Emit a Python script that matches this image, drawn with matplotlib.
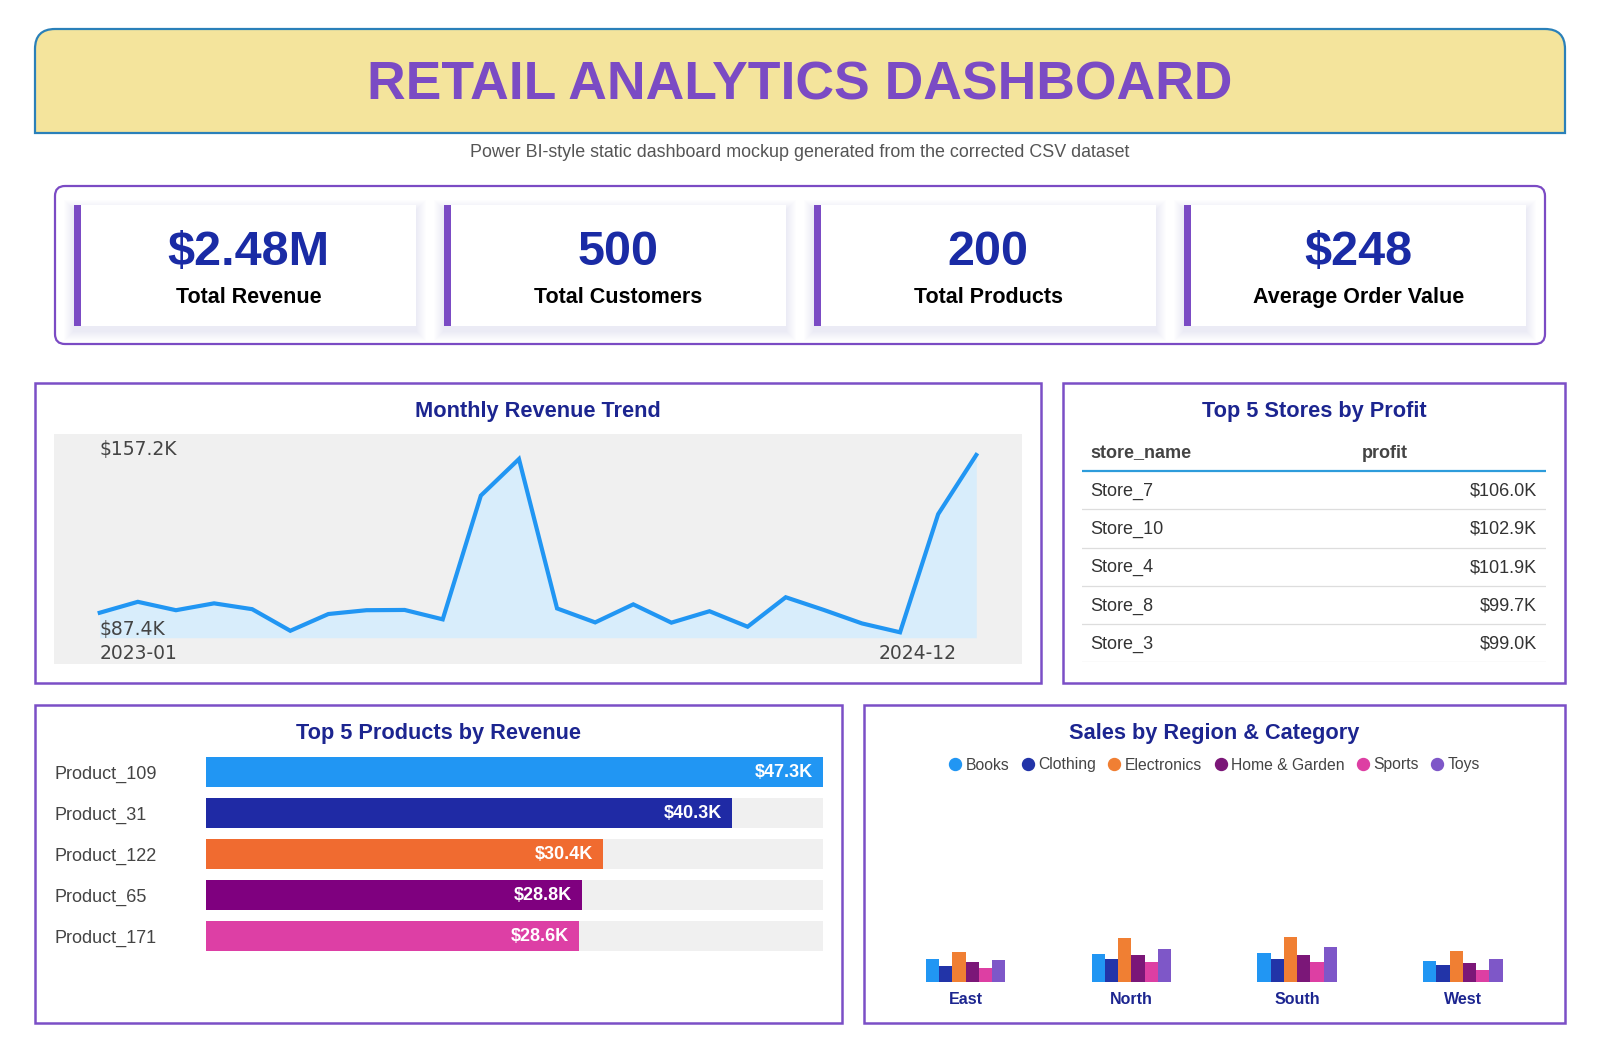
import matplotlib
matplotlib.use('Agg')
import matplotlib.pyplot as plt
from matplotlib.patches import FancyBboxPatch, Rectangle, PathPatch
from matplotlib.path import Path
from matplotlib.lines import Line2D
import numpy as np

plt.rcParams['font.family'] = ['Liberation Sans', 'DejaVu Sans']

# ---------------- data ----------------
title = 'RETAIL ANALYTICS DASHBOARD'
subtitle = 'Power BI-style static dashboard mockup generated from the corrected CSV dataset'

kpi_values = ['$2.48M', '500', '200', '$248']
kpi_labels = ['Total Revenue', 'Total Customers', 'Total Products', 'Average Order Value']

months = ['2023-01', '2023-02', '2023-03', '2023-04', '2023-05', '2023-06',
          '2023-07', '2023-08', '2023-09', '2023-10', '2023-11', '2023-12',
          '2024-01', '2024-02', '2024-03', '2024-04', '2024-05', '2024-06',
          '2024-07', '2024-08', '2024-09', '2024-10', '2024-11', '2024-12']
monthly_revenue_k = [95.1, 99.4, 96.1, 98.8, 96.5, 88.0, 94.6, 96.1, 96.2, 92.5, 141.2, 155.6,
                     96.8, 91.3, 98.4, 91.2, 95.7, 89.6, 101.2, 96.2, 90.9, 87.4, 133.9, 157.2]

store_names = ['Store_7', 'Store_10', 'Store_4', 'Store_8', 'Store_3']
store_profit_k = [106.0, 102.9, 101.9, 99.7, 99.0]

products = ['Product_109', 'Product_31', 'Product_122', 'Product_65', 'Product_171']
product_revenue_k = [47.3, 40.3, 30.4, 28.8, 28.6]
product_colors = ['#2196F3', '#1F2AA5', '#F06B30', '#7F007F', '#DD3FA5']

regions = ['East', 'North', 'South', 'West']
categories = ['Books', 'Clothing', 'Electronics', 'Home & Garden', 'Sports', 'Toys']
category_colors = ['#2196F3', '#2234A8', '#F07F33', '#7B1778', '#DD3FA3', '#7E57C8']
sales_books = [94.7, 115.5, 119.7, 86.3]
sales_clothing = [65.5, 94.7, 94.7, 69.6]
sales_electronics = [123.8, 182.2, 186.4, 128.0]
sales_home = [82.1, 111.3, 111.3, 78.0]
sales_sports = [57.1, 82.1, 82.1, 48.8]
sales_toys = [90.5, 136.4, 144.7, 94.7]
region_sales = [sales_books, sales_clothing, sales_electronics, sales_home, sales_sports, sales_toys]

# ---------------- styling ----------------
W, H, DPI = 1600, 1050, 100
PURPLE = '#7B4BC4'
NAVY = '#1C2590'
KPI_BLUE = '#1A2BA5'


def rect(x0, y0, x1, y1):
    return [x0 / W, 1 - y1 / H, (x1 - x0) / W, (y1 - y0) / H]


fig = plt.figure(figsize=(W / DPI, H / DPI), dpi=DPI)
fig.patch.set_facecolor('white')
bg = fig.add_axes([0, 0, 1, 1])
bg.set_xlim(0, W)
bg.set_ylim(H, 0)
bg.axis('off')

# header with rounded top corners
hx0, hy0, hx1, hy1, r = 35, 29, 1565, 133, 20
verts = [(hx0, hy1), (hx0, hy0 + r), (hx0, hy0), (hx0 + r, hy0), (hx1 - r, hy0),
         (hx1, hy0), (hx1, hy0 + r), (hx1, hy1), (hx0, hy1)]
codes = [Path.MOVETO, Path.LINETO, Path.CURVE3, Path.CURVE3, Path.LINETO,
         Path.CURVE3, Path.CURVE3, Path.LINETO, Path.CLOSEPOLY]
bg.add_patch(PathPatch(Path(verts, codes), facecolor='#F4E49C', edgecolor='#2A80B9', lw=1.6))
bg.text(800, 100, title, ha='center', va='baseline', fontsize=38.5, fontweight='bold', color=PURPLE)
bg.text(800, 157, subtitle, ha='center', va='baseline', fontsize=12.9, color='#555555')

# KPI container
bg.add_patch(FancyBboxPatch((55, 186), 1490, 158, boxstyle='round,pad=0,rounding_size=10',
                            fc='white', ec=PURPLE, lw=1.6))
card_w, card_h, card_y = 341.7, 120.7, 205
for i, (val, lab) in enumerate(zip(kpi_values, kpi_labels)):
    x0 = 74 + i * 370
    for k in range(1, 11):
        bg.add_patch(Rectangle((x0 - k, card_y - k + 5), card_w + 2 * k, card_h + 2 * k,
                               fc='#5b4a9e', alpha=0.008, ec='none'))
    bg.add_patch(Rectangle((x0, card_y), card_w, card_h, fc='white', ec='none'))
    bg.add_patch(Rectangle((x0, card_y), 7, card_h, fc=PURPLE, ec='none'))
    cx = x0 + 7 + (card_w - 7) / 2
    bg.text(cx, 265, val, ha='center', va='baseline', fontsize=35, fontweight='bold', color=KPI_BLUE)
    bg.text(cx, 303, lab, ha='center', va='baseline', fontsize=15.5, fontweight='bold', color='black')

# panels
panels = [(35, 383, 1041, 682.5, 'Monthly Revenue Trend'),
          (1063, 383, 1565, 682.5, 'Top 5 Stores by Profit'),
          (35, 704.5, 841.7, 1022.5, 'Top 5 Products by Revenue'),
          (864, 704.5, 1565, 1022.5, 'Sales by Region & Category')]
for (x0, y0, x1, y1, t) in panels:
    bg.add_patch(Rectangle((x0, y0), x1 - x0, y1 - y0, fc='white', ec='#7B4FC6', lw=1.8))
    bg.text((x0 + x1) / 2, y0 + 34.5, t, ha='center', va='baseline', fontsize=15.7,
            fontweight='bold', color=NAVY)

# ---------------- monthly revenue line ----------------
ax = fig.add_axes(rect(54, 434.3, 1022, 663.7))
ax.set_facecolor('#F0F0F0')
xs = np.arange(len(months))
vals = np.array(monthly_revenue_k)
vmin, vmax = vals.min(), vals.max()
rng = vmax - vmin
base = vmin - 0.0305 * rng
ax.fill_between(xs, vals, base, color='#D8EDFB', lw=0)
ax.plot(xs, vals, color='#2196F3', lw=3.0, solid_joinstyle='miter')
ax.set_xlim(-1.2, len(months) - 1 + 1.2)
ax.set_ylim(vmin - 0.177 * rng, vmax + 0.1165 * rng)
for s in ax.spines.values():
    s.set_visible(False)
ax.set_xticks([])
ax.set_yticks([])
tick_font = dict(family='DejaVu Sans', fontsize=13.5, color='#444444')
ax.annotate(f'${vmax:.1f}K', xy=(0, vmax), xytext=(0, 4), textcoords='offset points',
            ha='left', va='center', **tick_font)
ax.annotate(f'${vmin:.1f}K', xy=(0, vmin), xytext=(0, 2), textcoords='offset points',
            ha='left', va='center', **tick_font)
ax.annotate(months[0], xy=(0, 0.045), xycoords=ax.get_xaxis_transform(),
            ha='left', va='center', **tick_font)
ax.annotate(months[-1], xy=(len(months) - 1, 0.045), xycoords=ax.get_xaxis_transform(),
            xytext=(-14.5, 0), textcoords='offset points', ha='right', va='center', **tick_font)

# ---------------- stores table ----------------
tx = fig.add_axes(rect(1082, 433, 1546, 662.3))
tx.set_xlim(0, 1)
tx.set_ylim(len(store_names), -1)
tx.axis('off')
tx.text(0.017, -0.5 + 0.157, 'store_name', ha='left', va='baseline', fontsize=13,
        fontweight='bold', color='#444444')
tx.text(0.603, -0.5 + 0.157, 'profit', ha='left', va='baseline', fontsize=13,
        fontweight='bold', color='#444444')
tx.axhline(0, color='#2D9CDB', lw=1.6)
for i, (n, p) in enumerate(zip(store_names, store_profit_k)):
    tx.text(0.017, i + 0.5 + 0.14, n, ha='left', va='baseline', fontsize=13, color='#333333')
    tx.text(0.981, i + 0.5 + 0.14, f'${p:.1f}K', ha='right', va='baseline', fontsize=13, color='#333333')
    tx.axhline(i + 1, color='#DDDDDD', lw=0.9)

# ---------------- products bars ----------------
bx = fig.add_axes(rect(206.3, 751.5, 823, 956.5))
yp = np.arange(len(products))
pmax = max(product_revenue_k)
bx.barh(yp, [pmax] * len(products), height=0.732, color='#F0F0F0')
bx.barh(yp, product_revenue_k, height=0.732, color=product_colors)
for y, v in zip(yp, product_revenue_k):
    bx.annotate(f'${v:.1f}K', xy=(v, y), xytext=(-7.2, -0.7), textcoords='offset points',
                ha='right', va='center', color='white', fontsize=13, fontweight='bold')
bx.set_xlim(0, pmax)
bx.set_ylim(len(products) - 0.5, -0.5)
bx.set_yticks(yp)
bx.set_yticklabels(products, fontsize=13, color='#444444')
bx.tick_params(axis='y', length=0, pad=109)
for lbl in bx.get_yticklabels():
    lbl.set_horizontalalignment('left')
bx.set_xticks([])
for s in bx.spines.values():
    s.set_visible(False)
bx.patch.set_alpha(0)

# ---------------- region grouped bars ----------------
rx = fig.add_axes(rect(882.7, 780, 1545.7, 981.7))
xr = np.arange(len(regions))
bw = 0.08
n = len(categories)
for j, (cat, col, data) in enumerate(zip(categories, category_colors, region_sales)):
    rx.bar(xr + (j - (n - 1) / 2) * bw, data, width=bw, color=col, label=cat)
rx.set_xlim(-0.5, len(regions) - 0.5)
rx.set_ylim(0, 840)
rx.set_xticks(xr)
rx.set_xticklabels(regions, fontsize=11.5, fontweight='bold', color=NAVY)
rx.tick_params(axis='x', length=0, pad=7.5)
rx.set_yticks([])
for s in rx.spines.values():
    s.set_visible(False)
rx.patch.set_alpha(0)

handles = [Line2D([], [], marker='o', ls='', color=c, markersize=8.6) for c in category_colors]
fig.legend(handles, categories, loc='center', bbox_to_anchor=(1214.5 / W, 1 - 765 / H),
           ncol=6, frameon=False, fontsize=11.3, handlelength=0.8, handletextpad=0.27,
           columnspacing=0.77, borderpad=0, labelcolor='#444444')

fig.savefig('out.png', dpi=DPI, facecolor='white')
